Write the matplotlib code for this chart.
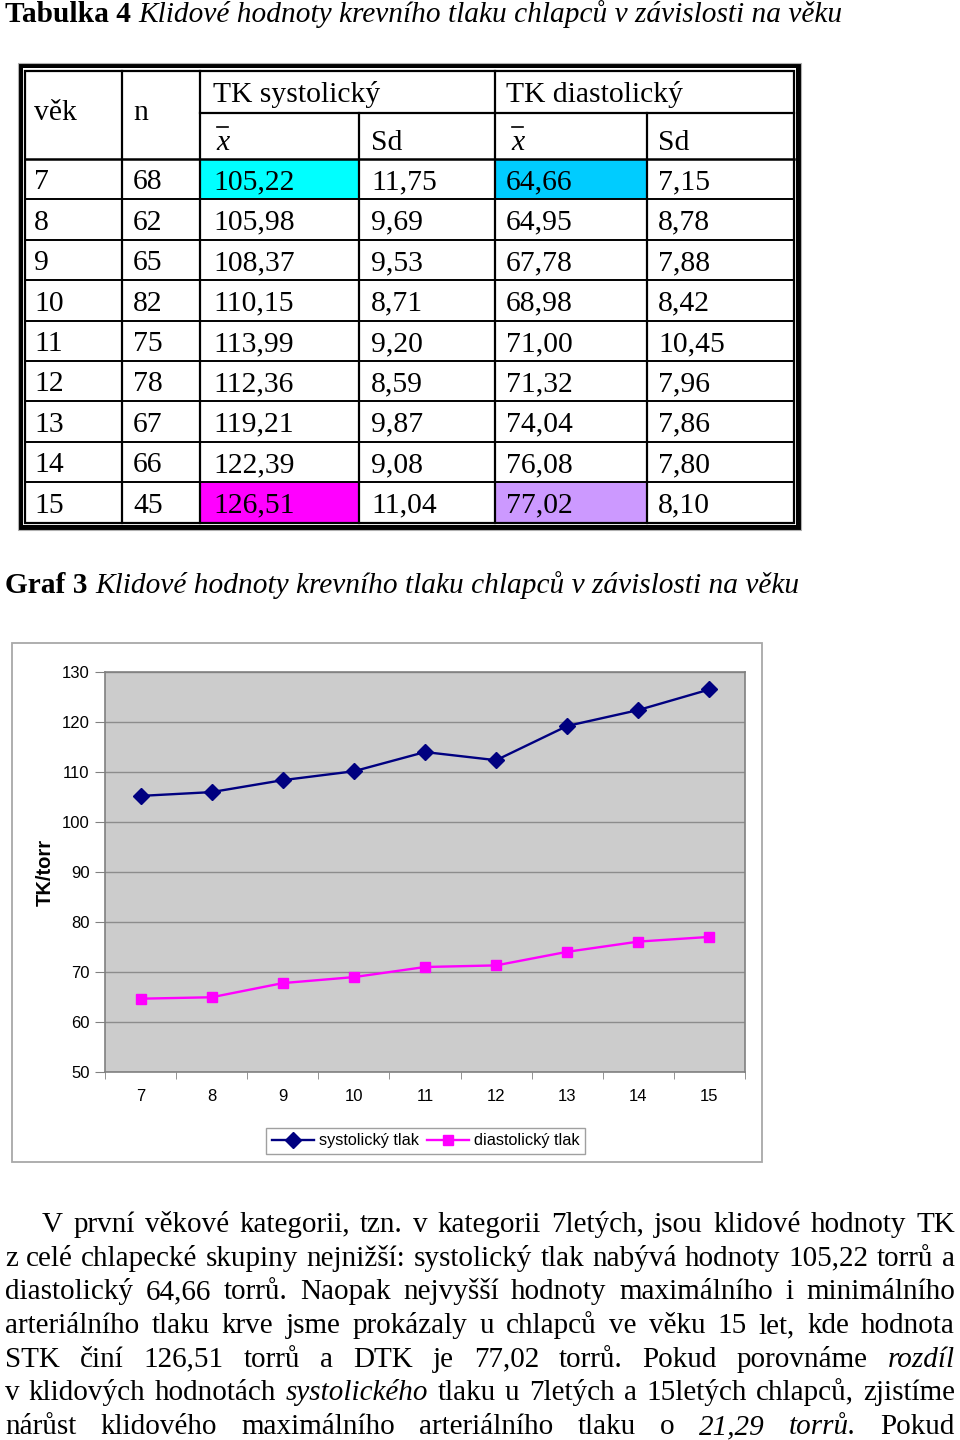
import matplotlib
matplotlib.use("Agg")
import matplotlib.pyplot as plt
from matplotlib.patches import Rectangle
from matplotlib.lines import Line2D

# data of Tabulka 4 / Graf 3
ages = [7, 8, 9, 10, 11, 12, 13, 14, 15]
counts = [68, 62, 65, 82, 75, 78, 67, 66, 45]
sys_mean = [105.22, 105.98, 108.37, 110.15, 113.99, 112.36, 119.21, 122.39, 126.51]
sys_sd = [11.75, 9.69, 9.53, 8.71, 9.20, 8.59, 9.87, 9.08, 11.04]
dia_mean = [64.66, 64.95, 67.78, 68.98, 71.00, 71.32, 74.04, 76.08, 77.02]
dia_sd = [7.15, 8.78, 7.88, 8.42, 10.45, 7.96, 7.86, 7.80, 8.10]
highlight = {(0, 2): "#00FFFF", (0, 4): "#00CCFF", (8, 2): "#FF00FF", (8, 4): "#CC99FF"}

paragraph = [
    [("V první věkové kategorii, tzn. v kategorii 7letých, jsou klidové hodnoty TK", "normal")],
    [("z celé chlapecké skupiny nejnižší: systolický tlak nabývá hodnoty 105,22 torrů a", "normal")],
    [("diastolický 64,66 torrů. Naopak nejvyšší hodnoty maximálního i minimálního", "normal")],
    [("arteriálního tlaku krve jsme prokázaly u chlapců ve věku 15 let, kde hodnota", "normal")],
    [("STK činí 126,51 torrů a DTK je 77,02 torrů. Pokud porovnáme", "normal"), ("rozdíl", "italic")],
    [("v klidových hodnotách", "normal"), ("systolického", "italic"),
     ("tlaku u 7letých a 15letých chlapců, zjistíme", "normal")],
    [("nárůst klidového maximálního arteriálního tlaku o", "normal"), ("21,29 torrů.", "italic"),
     ("Pokud", "normal")],
]

W, H = 960, 1440
SERIF = "Liberation Serif"
SANS = "Liberation Sans"

fig = plt.figure(figsize=(W / 100, H / 100), dpi=100)
bg = fig.add_axes([0, 0, 1, 1])
bg.set_xlim(0, W)
bg.set_ylim(H, 0)
bg.axis("off")
rend = fig.canvas.get_renderer()


def fmt(v):
    return f"{v:.2f}".replace(".", ",")


def run(segs, x, y, size):
    # place text pieces one after another
    for txt, st, wt in segs:
        t = bg.text(x, y, txt, fontsize=size, family=SERIF, style=st, weight=wt, va="baseline")
        x += t.get_window_extent(rend).width + size * 100 / 72 * 0.25


def justify(segs, y, x0, x1, size):
    words = []
    for txt, st in segs:
        for w in txt.split():
            words.append((w, st))
    arts = [bg.text(0, y, w, fontsize=size, family=SERIF, style=st, va="baseline") for w, st in words]
    widths = [a.get_window_extent(rend).width for a in arts]
    gap = (x1 - x0 - sum(widths)) / (len(arts) - 1)
    x = x0
    for a, w in zip(arts, widths):
        a.set_x(x)
        x += w + gap


# titles
run([("Tabulka 4", "normal", "bold"),
     ("Klidové hodnoty krevního tlaku chlapců v závislosti na věku", "italic", "normal")], 5, 22, 21.2)
run([("Graf 3", "normal", "bold"),
     ("Klidové hodnoty krevního tlaku chlapců v závislosti na věku", "italic", "normal")], 5, 593, 21.2)

# table
cols = [25, 122, 200, 359, 495, 647, 794]
top, split, head = 71, 113, 159
rows = [head + i * 40.4 for i in range(10)]
bg.add_patch(Rectangle((18, 63), 783, 467, facecolor="black", edgecolor="#B0B0B0", lw=0.8))
bg.add_patch(Rectangle((23, 68), 773, 457, facecolor="white", edgecolor="none"))
for (r, c), col in highlight.items():
    bg.add_patch(Rectangle((cols[c], rows[r]), cols[c + 1] - cols[c], rows[r + 1] - rows[r],
                           facecolor=col, edgecolor="none"))
bg.add_patch(Rectangle((cols[0], top), cols[-1] - cols[0], rows[-1] - top,
                       facecolor="none", edgecolor="black", lw=1.6))
for x in (cols[1], cols[2], cols[4]):
    bg.plot([x, x], [top, rows[-1]], color="black", lw=1.6)
for x in (cols[3], cols[5]):
    bg.plot([x, x], [split, rows[-1]], color="black", lw=1.6)
bg.plot([cols[2], cols[-1]], [split, split], color="black", lw=1.6)
for y in rows[:-1]:
    bg.plot([cols[0], cols[-1]], [y, y], color="black", lw=1.8 if y == head else 1.4)

TS = 21.3
pads = [9, 11, 13, 12, 11, 11]
bg.text(cols[0] + pads[0], 120, "věk", fontsize=TS, family=SERIF, va="baseline")
bg.text(cols[1] + pads[1], 120, "n", fontsize=TS, family=SERIF, va="baseline")
bg.text(cols[2] + 13, 102, "TK systolický", fontsize=TS, family=SERIF, va="baseline")
bg.text(cols[4] + 11, 102, "TK diastolický", fontsize=TS, family=SERIF, va="baseline")
for c in (2, 4):
    x0 = cols[c] + 16
    bg.text(x0, 150, "x", fontsize=TS, family=SERIF, style="italic", va="baseline")
    bg.add_line(Line2D([x0 + 1, x0 + 12], [127, 127], color="black", lw=1.2))
bg.text(cols[3] + 12, 150, "Sd", fontsize=TS, family=SERIF, va="baseline")
bg.text(cols[5] + 11, 150, "Sd", fontsize=TS, family=SERIF, va="baseline")

for i in range(len(ages)):
    yb = rows[i + 1] - 10
    vals = [str(ages[i]), str(counts[i]), fmt(sys_mean[i]), fmt(sys_sd[i]), fmt(dia_mean[i]), fmt(dia_sd[i])]
    for c, v in enumerate(vals):
        bg.text(cols[c] + pads[c], yb, v, fontsize=TS, family=SERIF, va="baseline")

# chart frame
bg.add_patch(Rectangle((12, 643), 750, 519, facecolor="white", edgecolor="#A8A8A8", lw=1.3, zorder=0))

ax = fig.add_axes([105 / W, 1 - 1072 / H, 640 / W, 400 / H])
ax.set_facecolor("#CCCCCC")
xs = list(range(len(ages)))
ax.plot(xs, sys_mean, color="#000080", marker="D", ms=8, lw=1.7, label="systolický tlak")
ax.plot(xs, dia_mean, color="#FF00FF", marker="s", ms=7, lw=1.7, label="diastolický tlak")
ax.set_xlim(-0.5, 8.5)
ax.set_ylim(50, 130)
ax.set_yticks(range(50, 131, 10))
ax.set_xticks(xs)
ax.set_xticklabels([str(a) for a in ages])
ax.set_xticks([i - 0.5 for i in range(10)], minor=True)
ax.tick_params(axis="x", which="major", length=0, pad=12, labelsize=12)
ax.tick_params(axis="x", which="minor", length=5, color="#808080")
ax.tick_params(axis="y", length=7, color="#808080", pad=4, labelsize=12)
for lab in ax.get_xticklabels() + ax.get_yticklabels():
    lab.set_family(SANS)
ax.grid(axis="y", color="#8C8C8C", lw=1)
ax.set_axisbelow(True)
for s in ax.spines.values():
    s.set_color("#808080")
    s.set_linewidth(1.2)
ax.set_ylabel("TK/torr", fontsize=14.5, fontweight="bold", family=SANS, va="center")
ax.yaxis.set_label_coords(-0.094, 0.5)

fig.legend(loc="center", bbox_to_anchor=(425.5 / W, 1 - 1141 / H), ncol=2, fancybox=False,
           edgecolor="#A0A0A0", framealpha=1, prop={"family": SANS, "size": 11.7},
           handlelength=2.6, handletextpad=0.3, columnspacing=0.5, borderpad=0.35, borderaxespad=0)

# paragraph
PS = 21
base = 1232
for k, segs in enumerate(paragraph):
    justify(segs, base + k * 33.7, 42 if k == 0 else 5, 955, PS)

fig.savefig("out.png", dpi=100)
